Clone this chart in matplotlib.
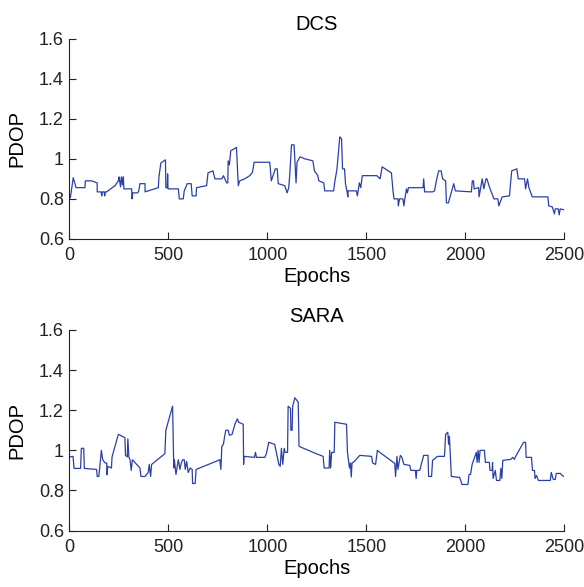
import matplotlib
matplotlib.use("Agg")
import matplotlib.pyplot as plt

plt.rcParams["font.family"] = ["Liberation Sans", "DejaVu Sans"]

dcs_epochs = [0, 5, 19, 33, 78, 80, 112, 140, 140, 160, 163, 166, 175, 178, 181, 188, 230, 247, 250, 258,
              262, 268, 272, 275, 314, 316, 320, 345, 350, 356, 382, 382, 449, 452, 462, 485, 487, 494, 496, 498,
              550, 555, 575, 580, 595, 615, 620, 640, 642, 693, 700, 725, 735, 770, 778, 794, 800, 802, 808, 815,
              844, 853, 860, 885, 911, 925, 933, 1012, 1020, 1040, 1050, 1055, 1088, 1100, 1108, 1113, 1122, 1135,
              1145, 1150, 1165, 1190, 1230, 1238, 1255, 1260, 1285, 1290, 1335, 1340, 1352, 1366, 1375, 1380,
              1390, 1395, 1402, 1407, 1408, 1450, 1455, 1465, 1472, 1480, 1553, 1570, 1580, 1627, 1635, 1640,
              1660, 1662, 1668, 1685, 1690, 1695, 1703, 1708, 1713, 1787, 1790, 1795, 1835, 1845, 1854, 1866,
              1878, 1886, 1901, 1905, 1915, 1942, 1950, 2031, 2036, 2042, 2045, 2068, 2070, 2078, 2086, 2094,
              2105, 2110, 2120, 2145, 2165, 2170, 2187, 2224, 2228, 2235, 2261, 2268, 2300, 2305, 2315, 2322,
              2339, 2418, 2422, 2440, 2451, 2455, 2470, 2475, 2480, 2500]
dcs_pdop = [0.80, 0.81, 0.906, 0.856, 0.856, 0.89, 0.89, 0.88, 0.835, 0.835, 0.815, 0.835, 0.835, 0.815, 0.835,
            0.835, 0.866, 0.89, 0.91, 0.86, 0.91, 0.87, 0.91, 0.85, 0.85, 0.80, 0.83, 0.83, 0.84, 0.876, 0.876,
            0.835, 0.856, 0.91, 0.98, 0.995, 0.856, 0.856, 0.925, 0.85, 0.85, 0.80, 0.80, 0.84, 0.876, 0.876,
            0.815, 0.815, 0.856, 0.866, 0.93, 0.94, 0.90, 0.90, 0.916, 0.88, 0.88, 0.99, 0.97, 1.04, 1.057,
            0.866, 0.89, 0.90, 0.916, 0.933, 0.983, 0.983, 0.89, 0.95, 0.95, 0.876, 0.866, 0.83, 0.856, 0.916,
            1.07, 1.07, 0.88, 0.983, 1.01, 1.00, 0.99, 0.94, 0.916, 0.89, 0.88, 0.84, 0.84, 0.88, 0.95, 1.11,
            1.10, 0.95, 0.95, 0.876, 0.84, 0.81, 0.84, 0.84, 0.815, 0.88, 0.856, 0.916, 0.916, 0.90, 0.96, 0.93,
            0.84, 0.80, 0.80, 0.765, 0.80, 0.80, 0.765, 0.80, 0.85, 0.83, 0.856, 0.856, 0.90, 0.835, 0.835,
            0.84, 0.89, 0.94, 0.94, 0.90, 0.89, 0.78, 0.78, 0.876, 0.84, 0.835, 0.89, 0.89, 0.85, 0.856, 0.81,
            0.856, 0.90, 0.85, 0.90, 0.90, 0.866, 0.80, 0.80, 0.765, 0.81, 0.815, 0.866, 0.94, 0.95, 0.90, 0.90,
            0.85, 0.90, 0.856, 0.81, 0.81, 0.765, 0.76, 0.725, 0.75, 0.75, 0.72, 0.75, 0.745]

sara_epochs = [0, 18, 23, 56, 60, 72, 75, 137, 140, 148, 152, 161, 168, 180, 188, 190, 193, 212, 215, 247,
               280, 283, 292, 295, 300, 306, 312, 318, 356, 361, 382, 398, 403, 410, 415, 482, 487, 521, 527,
               530, 538, 550, 558, 565, 572, 580, 585, 592, 600, 610, 620, 622, 635, 640, 760, 765, 770, 778,
               785, 790, 802, 808, 822, 836, 848, 855, 878, 880, 882, 935, 940, 945, 987, 995, 1007, 1037, 1058,
               1065, 1071, 1078, 1085, 1090, 1102, 1105, 1117, 1119, 1125, 1128, 1139, 1156, 1160, 1248, 1282,
               1287, 1312, 1315, 1320, 1325, 1338, 1341, 1400, 1405, 1415, 1420, 1424, 1428, 1440, 1467, 1527,
               1532, 1547, 1556, 1568, 1644, 1648, 1655, 1660, 1672, 1680, 1690, 1720, 1725, 1748, 1752, 1755,
               1770, 1790, 1812, 1815, 1830, 1835, 1860, 1895, 1901, 1912, 1916, 1920, 1930, 1972, 1984, 2014,
               2019, 2027, 2035, 2056, 2060, 2065, 2070, 2075, 2097, 2102, 2122, 2125, 2136, 2138, 2141, 2152,
               2158, 2175, 2180, 2185, 2190, 2230, 2240, 2248, 2255, 2295, 2305, 2308, 2335, 2340, 2350, 2353,
               2360, 2370, 2430, 2435, 2445, 2455, 2460, 2480, 2490, 2500]
sara_pdop = [0.967, 0.97, 0.91, 0.91, 1.01, 1.01, 0.91, 0.905, 0.87, 0.87, 0.905, 1.00, 0.953, 0.937, 0.937,
             0.878, 0.92, 0.912, 0.967, 1.08, 1.063, 0.975, 0.967, 1.057, 0.967, 0.953, 0.90, 0.953, 0.912,
             0.87, 0.87, 0.89, 0.93, 0.87, 0.93, 0.983, 1.10, 1.22, 0.912, 0.953, 0.88, 0.953, 0.905, 0.937,
             0.953, 0.953, 0.905, 0.945, 0.89, 0.912, 0.905, 0.835, 0.835, 0.905, 0.953, 0.905, 1.02, 1.03,
             1.075, 1.10, 1.10, 1.075, 1.08, 1.13, 1.157, 1.14, 1.13, 0.93, 0.97, 0.965, 0.99, 0.965, 0.965,
             0.983, 1.04, 1.03, 0.93, 0.92, 1.01, 0.93, 1.01, 0.99, 0.99, 1.22, 1.21, 1.10, 1.10, 1.22, 1.262,
             1.24, 1.02, 0.983, 0.97, 0.912, 0.912, 1.00, 0.912, 0.99, 0.99, 1.14, 1.13, 0.99, 0.912, 0.937,
             0.867, 0.937, 0.945, 0.975, 0.97, 0.937, 0.93, 1.00, 0.99, 0.935, 0.87, 0.97, 0.905, 0.975, 0.965,
             0.93, 0.925, 0.90, 0.90, 0.86, 0.90, 0.90, 0.975, 0.975, 0.87, 0.87, 0.95, 0.97, 0.97, 1.08, 1.09,
             1.03, 1.07, 0.87, 0.865, 0.83, 0.83, 0.88, 0.88, 0.93, 0.99, 0.94, 1.00, 0.94, 1.00, 1.00, 0.94,
             0.94, 0.90, 0.90, 0.94, 0.86, 0.90, 0.85, 0.85, 0.91, 0.86, 0.95, 0.955, 0.965, 0.955, 0.97, 1.04,
             1.04, 0.965, 0.965, 0.90, 0.90, 0.86, 0.875, 0.85, 0.85, 0.89, 0.855, 0.855, 0.885, 0.885, 0.875,
             0.87]

x_ticks = [0, 500, 1000, 1500, 2000, 2500]
y_ticks = [0.6, 0.8, 1.0, 1.2, 1.4, 1.6]
y_tick_labels = ["0.6", "0.8", "1", "1.2", "1.4", "1.6"]

line_color = "#2b3fa8"


def draw_panel(ax, epochs, pdop, title):
    ax.plot(epochs, pdop, color=line_color, linewidth=0.9)
    ax.set_xlim(0, 2500)
    ax.set_ylim(0.6, 1.6)
    ax.set_xticks(x_ticks)
    ax.set_yticks(y_ticks)
    ax.set_yticklabels(y_tick_labels)
    ax.spines["top"].set_visible(False)
    ax.spines["right"].set_visible(False)
    for side in ["left", "bottom"]:
        ax.spines[side].set_linewidth(0.8)
        ax.spines[side].set_color("#222222")
    ax.tick_params(direction="in", length=5, width=0.8, labelsize=13, colors="#222222")
    ax.tick_params(axis="x", pad=6)
    ax.tick_params(axis="y", pad=4)
    ax.set_title(title, fontsize=14.5, pad=6)
    ax.set_xlabel("Epochs", fontsize=14.5, labelpad=2)
    ax.set_ylabel("PDOP", fontsize=14.5, labelpad=9)


fig = plt.figure(figsize=(5.84, 5.87), dpi=100, facecolor="white")
ax1 = fig.add_axes([0.119, 0.593, 0.847, 0.341])
ax2 = fig.add_axes([0.119, 0.096, 0.847, 0.342])
draw_panel(ax1, dcs_epochs, dcs_pdop, "DCS")
draw_panel(ax2, sara_epochs, sara_pdop, "SARA")
fig.savefig("out.png", dpi=100, facecolor="white")
